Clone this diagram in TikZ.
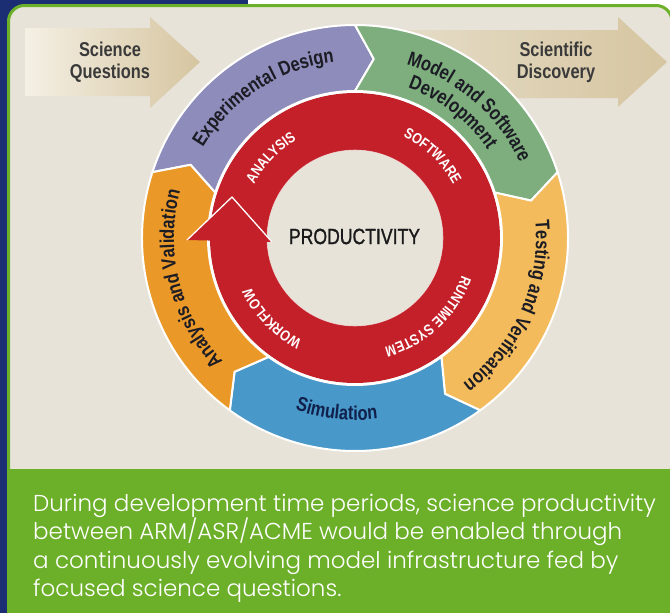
\documentclass[tikz,border=0pt]{standalone}
\usepackage{fontspec}
\setmainfont{Liberation Sans}
\newfontfamily\condfont{Liberation Sans}[FakeStretch=0.82]
\newfontfamily\prodfont{Liberation Sans}[FakeStretch=0.8, FakeBold=1.2]
\newfontfamily\bodyfont{Poppins Light}
\usetikzlibrary{decorations.text}

\definecolor{bgblue}{RGB}{27,45,115}
\definecolor{panelgreen}{RGB}{108,176,42}
\definecolor{beige}{RGB}{231,227,217}
\definecolor{segpurple}{RGB}{142,140,186}
\definecolor{seggreen}{RGB}{126,174,126}
\definecolor{segyellow}{RGB}{244,187,92}
\definecolor{segblue}{RGB}{72,152,202}
\definecolor{segorange}{RGB}{234,152,40}
\definecolor{ringred}{RGB}{196,32,42}
\definecolor{labeldark}{RGB}{28,28,36}
\definecolor{simnavy}{RGB}{16,32,74}
\definecolor{sqgray}{RGB}{58,58,58}
\definecolor{tanlight}{RGB}{244,240,228}
\definecolor{tandark}{RGB}{214,197,160}
\definecolor{tanmid}{RGB}{230,222,202}
\definecolor{prodblack}{RGB}{26,26,26}

\newcommand\outerfont{\condfont\bfseries\fontsize{20}{22}\selectfont}
\newcommand\innerfont{\condfont\bfseries\fontsize{15}{17}\selectfont}

\newcommand{\ringseg}[2]{%
  \pgfmathsetmacro{\aone}{#2}%
  \pgfmathsetmacro{\atwo}{#2-72}%
  \pgfmathsetmacro{\atip}{#2-78}%
  \pgfmathsetmacro{\anotch}{#2-6}%
  \filldraw[segbox, fill=#1] (\aone:213pt) arc[start angle=\aone, end angle=\atwo, radius=213pt]
    -- (\atip:180pt) -- (\atwo:147pt)
    arc[start angle=\atwo, end angle=\aone, radius=147pt]
    -- (\anotch:180pt) -- cycle;
}

\tikzset{
  segbox/.style={draw=white, line width=2pt, line join=round},
  outerlab/.style={decorate, decoration={text along path, text align=center, text color=labeldark, text={|\outerfont|#1}}},
  simlab/.style={decorate, decoration={text along path, text align=center, text color=simnavy, text={|\outerfont|#1}}},
  innerlab/.style={decorate, decoration={text along path, text align=center, text color=white, text={|\innerfont|#1}}},
  arrowlab/.style={font=\outerfont, text=sqgray, align=center, inner sep=0pt},
  bodyline/.style={anchor=base west, font=\bodyfont\fontsize{23}{28}\selectfont, text=white, inner sep=0pt},
}

\begin{document}
\begin{tikzpicture}[x=1pt,y=1pt]
\useasboundingbox (0,0) rectangle (670,-613);
\clip (0,0) rectangle (670,-613);
% outer background
\fill[bgblue] (0,0) rectangle (670,-613);
\fill[white] (248,0) rectangle (670,-613);
% panel
\draw[panelgreen, line width=3pt, fill=beige, rounded corners=16pt] (8.5,-5.5) rectangle (672,-700);
\fill[panelgreen] (7,-469) rectangle (672,-700);

% big arrows
\shade[left color=tanlight, right color=tandark]
  (25,-28) -- (150,-28) -- (150,-17) -- (200,-62) -- (150,-108) -- (150,-96) -- (25,-96) -- cycle;
\shade[left color=tanmid, right color=tandark]
  (380,-30) -- (618,-30) -- (618,-17) -- (667,-62) -- (618,-107) -- (618,-98) -- (380,-98) -- cycle;
\node[arrowlab, name=sq] at (110,-62) {Science\\Questions};
\node[arrowlab, name=sd] at (556,-62) {Scientific\\Discovery};

\begin{scope}[shift={(355,-238)}]
  \ringseg{segpurple}{162}
  \ringseg{seggreen}{90}
  \ringseg{segyellow}{18}
  \ringseg{segblue}{-54}
  \ringseg{segorange}{-126}
  % red ring
  \fill[ringred, even odd rule] (0,0) circle[radius=145pt] (0,0) circle[radius=88pt];
  \draw[white, line width=1.5pt] (0,0) circle[radius=146pt];
  \draw[white, line width=0.6pt, opacity=0.6] (0,0) circle[radius=88pt];
  % arrow head
  \fill[ringred] (-168,-2) -- (-123,41) -- (-83,-4) -- cycle;
  \draw[white, line width=1.3pt, line join=round] (-168,-2) -- (-123,41) -- (-83,-4);
  % outer labels
  \path[outerlab={Experimental Design}] (168:177pt) arc[start angle=168, end angle=78, radius=177pt];
  \path[outerlab={Model and Software}] (94:181pt) arc[start angle=94, end angle=4, radius=181pt];
  \path[outerlab={Development}] (92:159pt) arc[start angle=92, end angle=12, radius=159pt];
  \path[outerlab={Testing and Verification}] (21:181pt) arc[start angle=21, end angle=-69, radius=181pt];
  \path[simlab={Simulation}] (-136:182pt) arc[start angle=-136, end angle=-56, radius=182pt];
  \path[outerlab={Analysis and Validation}] (240:181pt) arc[start angle=240, end angle=148, radius=181pt];
  % inner labels
  \path[innerlab={ANALYSIS}] (176.5:114pt) arc[start angle=176.5, end angle=96.5, radius=114pt];
  \path[innerlab={SOFTWARE}] (86.6:112pt) arc[start angle=86.6, end angle=6.6, radius=112pt];
  \path[innerlab={RUNTIME SYSTEM}] (3:113pt) arc[start angle=3, end angle=-97, radius=113pt];
  \path[innerlab={WORKFLOW}] (-86:115pt) arc[start angle=-86, end angle=-186, radius=115pt];
  \node[name=prod, font=\prodfont\fontsize{22}{26}\selectfont, text=prodblack] at (-0.5,1.5) {PRODUCTIVITY};
\end{scope}

% bottom text
\node[bodyline, name=l1] at (33,-511) {During development time periods, science productivity};
\node[bodyline, name=l2] at (33,-539.5) {between ARM/ASR/ACME would be enabled through};
\node[bodyline, name=l3] at (33,-568) {a continuously evolving model infrastructure fed by};
\node[bodyline, name=l4] at (33,-596.5) {focused science questions.};
\end{tikzpicture}
\end{document}
